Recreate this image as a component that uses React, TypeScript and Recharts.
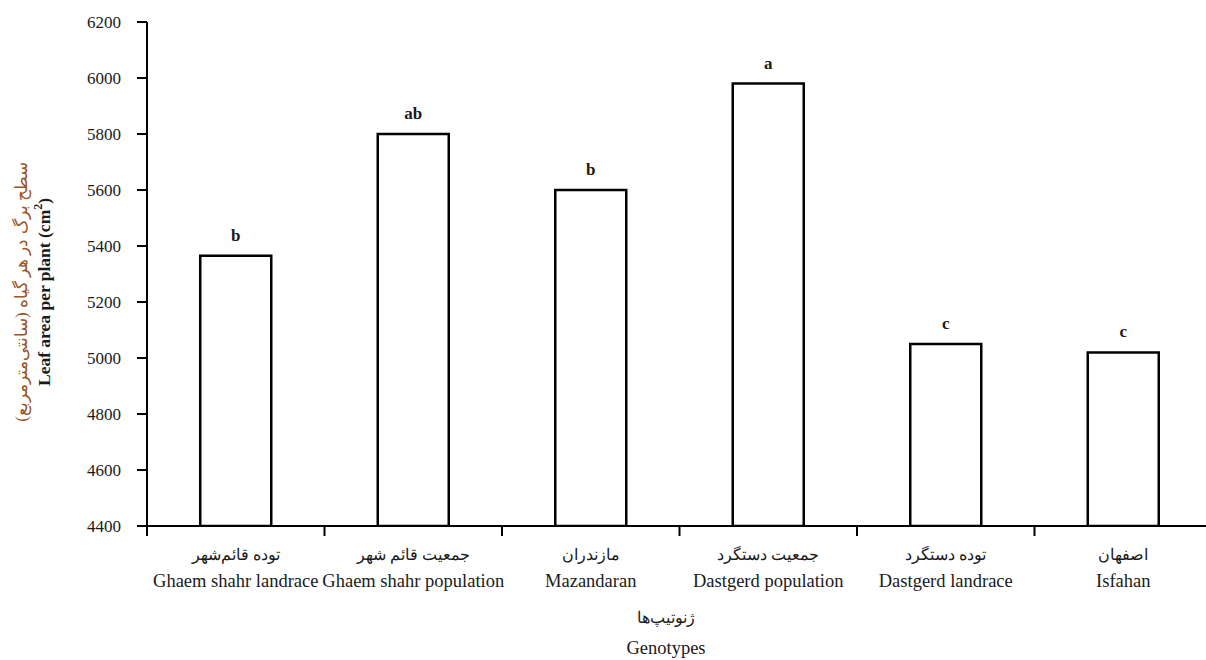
import { Bar, BarChart, LabelList, XAxis, YAxis } from 'recharts';

const genotypesFa = ['توده قائم‌شهر', 'جمعیت قائم شهر', 'مازندران', 'جمعیت دستگرد', 'توده دستگرد', 'اصفهان'];
const genotypesEn = [
  'Ghaem shahr landrace',
  'Ghaem shahr population',
  'Mazandaran',
  'Dastgerd population',
  'Dastgerd landrace',
  'Isfahan'
];
const leafArea = [5365, 5800, 5600, 5980, 5050, 5020];
const groups = ['b', 'ab', 'b', 'a', 'c', 'c'];
const yTicks = [4400, 4600, 4800, 5000, 5200, 5400, 5600, 5800, 6000, 6200];

const serif = "'Liberation Serif', 'Times New Roman', 'DejaVu Serif', serif";
const ink = '#1a1a1a';

const data = genotypesEn.map((en, i) => ({
  en,
  fa: genotypesFa[i],
  area: leafArea[i],
  group: groups[i]
}));

// category label: persian line above english line, tick marks on band edges
const CategoryTick = (props: any) => {
  const { x, y, payload, index } = props;
  const half = payload?.offset ?? 88.75;
  const i = payload?.index ?? index;
  const row = data[i] ?? data.find((d) => d.en === payload.value);
  return (
    <g>
      <line x1={x - half} x2={x - half} y1={y} y2={y + 10} stroke="#000" strokeWidth={2} />
      {i === data.length - 1 && (
        <line x1={x + half} x2={x + half} y1={y} y2={y + 10} stroke="#000" strokeWidth={2} />
      )}
      <text x={x} y={y + 34} textAnchor="middle" fontFamily={serif} fontSize={16} fill={ink}>
        {row?.fa}
      </text>
      <text x={x} y={y + 61} textAnchor="middle" fontFamily={serif} fontSize={18.5} fill={ink}>
        {payload.value}
      </text>
    </g>
  );
};

const YTitle = () => (
  <g>
    <text
      x={21}
      y={292}
      transform="rotate(-90 21 292)"
      textAnchor="middle"
      dominantBaseline="central"
      fontFamily={serif}
      fontSize={17}
      fill="#9a5522"
    >
      سطح برگ در هر گیاه (سانتی‌مترمربع)
    </text>
    <text
      x={44}
      y={292}
      transform="rotate(-90 44 292)"
      textAnchor="middle"
      dominantBaseline="central"
      fontFamily={serif}
      fontSize={17.5}
      fontWeight="bold"
      fill={ink}
    >
      Leaf area per plant (cm
      <tspan dy={-6} fontSize={12}>
        2
      </tspan>
      <tspan dy={6}>)</tspan>
    </text>
  </g>
);

const XTitle = () => (
  <g>
    <text x={666} y={623} textAnchor="middle" fontFamily={serif} fontSize={16} fill={ink}>
      ژنوتیپ‌ها
    </text>
    <text x={666} y={654} textAnchor="middle" fontFamily={serif} fontSize={18.5} fill={ink}>
      Genotypes
    </text>
  </g>
);

export default function App() {
  return (
    <div
      style={{
        position: 'absolute',
        left: 0,
        top: 0,
        width: 1206,
        height: 660,
        overflow: 'hidden',
        background: '#fff'
      }}
    >
      <BarChart
        width={1230}
        height={660}
        data={data}
        margin={{ top: 22, right: 18, bottom: 0, left: 0 }}
        barCategoryGap="30%"
      >
        <XAxis
          dataKey="en"
          height={134}
          interval={0}
          tickLine={false}
          tickSize={0}
          tickMargin={0}
          axisLine={{ stroke: '#000', strokeWidth: 2 }}
          tick={<CategoryTick />}
          label={{ content: () => <XTitle /> }}
        />
        <YAxis
          width={147}
          domain={[4400, 6200]}
          ticks={yTicks}
          interval={0}
          allowDataOverflow
          tickSize={10}
          tickMargin={16}
          axisLine={{ stroke: '#000', strokeWidth: 2 }}
          tickLine={{ stroke: '#000', strokeWidth: 2 }}
          tick={{ fill: ink, fontSize: 17, fontFamily: serif }}
          label={{ content: () => <YTitle /> }}
        />
        <Bar dataKey="area" fill="#fff" stroke="#000" strokeWidth={2.5} isAnimationActive={false}>
          <LabelList
            dataKey="group"
            position="top"
            offset={15}
            fill={ink}
            fontSize={17}
            fontWeight="bold"
            fontFamily={serif}
          />
        </Bar>
      </BarChart>
    </div>
  );
}
